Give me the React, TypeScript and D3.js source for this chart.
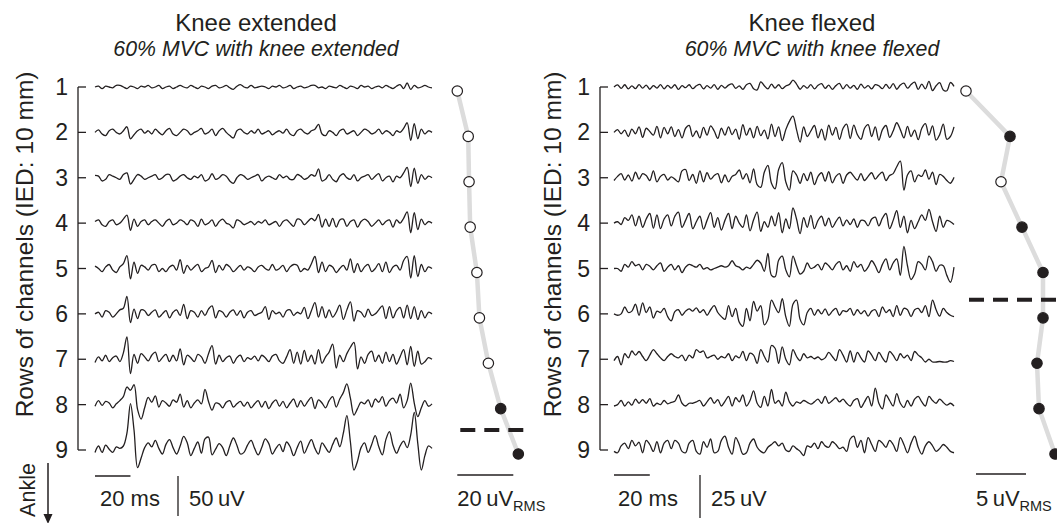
import React from "react";
import * as d3 from "d3";

// ---- Data -------------------------------------------------------------
const ROWS = [1, 2, 3, 4, 5, 6, 7, 8, 9];
const TRACE_MS = 190; // duration of each EMG epoch

// Knee extended, EMG per row of channels (uV), sampled every ~2 ms
const EXT_ROW1 = [0,1,-2,1,0,-1,2,2,0,-2,1,0,-2,1,0,2,-1,0,2,-2,0,1,-2,0,2,0,-1,2,0,-2,1,0,-2,1,2,-1,0,2,-1,-3,1,3,0,-1,2,-1,0,1,0,-2,1,0,2,-1,0,2,-2,0,1,-1,0,2,2,-1,0,-2,1,0,-1,2,0,-2,1,0,-2,2,0,1,-2,0,1,-1,2,0,-2,1,3,-2,5,-3,2,-1,0,2,0,-1];
const EXT_ROW2 = [0,3,-2,-4,2,4,0,-2,2,7,-8,-3,2,4,-1,2,-2,4,0,-3,2,5,-2,-4,0,4,2,-3,0,2,5,-2,0,4,-4,2,5,0,-4,-7,2,4,0,-2,2,-1,4,-2,0,2,-3,0,2,-1,4,-2,-4,2,4,0,-2,2,4,10,-2,-4,2,0,-4,2,4,-2,0,2,-4,0,4,2,-2,0,4,-2,2,0,-4,2,0,5,12,-10,11,-8,4,-2,2,0];
const EXT_ROW3 = [3,2,-4,-2,4,2,0,-2,4,6,-8,-2,4,2,-2,0,2,4,-2,0,4,4,-4,-2,2,4,0,-2,2,0,4,-4,-2,5,-2,0,4,2,-4,-7,0,4,2,-2,0,2,4,-4,0,2,0,-2,4,0,2,-2,-2,4,2,-2,0,4,2,11,-4,-2,4,-2,-5,2,5,0,-2,4,-4,0,2,4,-2,2,5,-4,0,2,-5,2,0,6,13,-11,12,-7,4,-2,2,0];
const EXT_ROW4 = [2,4,-2,-4,2,4,-2,0,5,10,-9,5,-4,2,4,-2,2,4,0,-4,2,5,-2,0,4,2,-2,4,2,-4,5,-2,0,4,-4,2,5,0,-2,-6,4,2,-2,0,2,-2,2,0,4,-2,0,2,-4,2,4,0,-4,5,4,-2,2,6,3,11,-5,5,-4,6,-5,4,5,-4,2,4,-5,2,5,2,-4,0,4,-2,2,4,-5,4,0,6,14,-12,13,-8,5,-2,2,0];
const EXT_ROW5 = [3,0,-4,2,5,-2,-5,2,6,16,-13,8,-6,4,2,-2,4,5,-4,0,-4,2,4,-2,11,-6,4,-2,2,5,-4,0,2,10,-5,4,-2,5,2,-4,0,4,-2,2,0,-4,2,4,0,-2,5,-2,0,4,-4,2,5,4,-4,0,-2,6,15,-5,8,-4,4,2,-5,0,4,-2,12,-5,6,-4,2,5,-4,0,6,-4,8,-5,2,4,-2,10,15,-12,16,-10,5,-4,2,0];
const EXT_ROW6 = [0,2,-4,4,2,-4,0,5,7,22,-11,6,-6,5,4,-2,2,5,-4,0,4,-5,2,5,-2,12,-6,4,2,-4,4,-2,6,10,-5,4,2,-4,2,5,-2,4,-5,2,4,-2,0,2,9,-7,4,0,2,-4,4,5,-2,2,0,8,-6,4,14,-4,9,-5,5,-4,2,11,-7,5,15,-9,4,2,-4,6,-2,0,5,10,-6,9,-5,4,8,-5,11,-6,9,-7,4,-5,2,0];
const EXT_ROW7 = [-4,3,-2,5,-3,2,4,-3,8,28,-18,6,-5,7,3,-2,5,9,-3,2,6,-3,5,-2,13,-7,5,2,-3,6,3,-5,7,17,-6,5,-3,2,4,-5,2,5,-3,2,0,4,-2,5,2,-3,4,6,-2,-5,3,12,-5,9,-6,11,-3,5,-6,12,-5,3,9,19,-11,5,-3,7,15,21,-12,3,-5,6,10,-3,5,-5,9,-3,6,-6,3,12,-7,16,-9,10,-6,-3,2,0];
const EXT_ROW8 = [-2,5,-1,4,2,-4,1,5,10,22,18,25,-6,-18,-4,9,3,11,-3,5,2,-2,6,3,13,-3,5,-4,2,6,1,19,4,-7,2,1,-4,3,5,-3,1,4,-2,3,-4,1,5,-3,4,-5,2,6,-2,4,-4,2,7,-3,5,-2,4,9,-5,6,2,-4,5,10,-3,7,15,26,8,-13,-5,3,1,6,-3,7,3,10,-2,5,8,2,13,-4,5,27,2,-15,-4,5,-2,1];
const EXT_ROW9 = [-3,5,-3,6,1,-3,4,2,5,21,58,25,-22,-10,3,9,4,12,2,-5,7,13,3,-5,5,17,9,-7,2,10,-4,14,16,-6,1,8,3,-7,5,15,6,-5,-3,6,12,2,-6,3,14,8,-5,2,7,-2,10,4,-7,3,11,-4,5,13,2,-5,9,3,-3,7,15,4,21,43,10,-25,-14,3,9,-3,7,18,4,-6,13,23,6,-4,5,11,3,19,47,8,-25,-7,5,2];

// Knee flexed (uV)
const FLX_ROW1 = [0,1.2,-0.8,1.3,-1.1,0.7,-1,1.4,-0.7,1.1,-1.3,0.8,-0.6,1.4,-1.1,1,-0.7,1.3,-1.4,0.8,-0.4,1.3,-1,0.7,1.5,-1.1,0.8,-0.7,1.4,-1.3,1,-0.6,1.1,1.8,-0.8,0.7,-1.4,1.3,2.1,-1,-1.7,3,0.7,-1.1,1.7,-0.7,1.3,-1,0.6,1.4,4,1.7,-1.3,0.8,-0.7,1.4,-1.1,1,2,-0.8,1.1,-1.4,0.8,2.1,-1.1,1.4,-0.7,1,-1.3,1.7,-0.6,0.8,-1.1,1.4,0.7,-1,1.5,-0.8,2,-1.3,1.1,2.2,-0.7,1.4,2.8,-1.4,1.7,-1.1,3.3,-2.1,0.7,2.5,-1.7,-2.2,2.6,0.4];
const FLX_ROW2 = [0,1.6,-0.8,1.3,-2.4,1.9,-0.8,3.2,-2.9,2.4,0.5,-1.6,3.5,-3.2,2.9,-0.8,3.2,-2.4,1.6,-3.2,2.4,4,-2.4,0.8,-3.2,2.9,-1.6,3.8,0.8,-3.5,2.4,-1.6,3.2,-1.3,1.9,-4,4.5,-1.6,2.4,-3.2,3.5,-1.9,1.3,-3.8,4.8,-2.4,3.2,-4.8,1.6,6.4,9.5,1.6,-5.6,3.2,-2.4,0.8,4,-3.2,1.9,-4.5,4.2,-1.6,2.9,-4,2.4,4.8,-3.5,4.2,-1.3,-4,2.4,4.5,-2.4,3.2,-4.5,1.6,4,-2.9,0.8,5.6,1.6,-3.2,3.5,-2.4,1.3,-4.2,2.4,5.1,-1.6,3.8,-4.5,-1.3,4.8,-4,-2.4,3.2];
const FLX_ROW3 = [-1.6,0.8,2.4,-1.3,1.6,-1.9,3.2,-0.8,2.4,1.3,-1.6,4,-2.4,0.8,1.9,-1.3,0.5,-0.8,-2.4,4,4.8,-1.6,1.9,-3.2,4,-2.4,2.9,-0.8,1.3,2.4,-2.9,1.6,-2.4,0.8,1.9,4.5,-0.8,2.4,-2.9,5.1,-4,-5.6,3.2,7.2,-3.2,-6.4,4.8,8.8,-2.4,-7.2,4,1.6,-3.2,2.4,-1.6,3.2,-4,0.8,2.9,-1.9,3.5,-2.9,0.8,2.4,-3.2,1.6,3.2,0.8,-1.3,2.4,-1.6,0.8,2.9,-0.8,1.6,3.2,-1.6,1.3,2.4,6.4,9.6,-7.2,1.6,4,-2.4,1.6,0.8,4.5,-0.8,3.2,-4,1.9,0.8,-1.6,-3.2,0.3];
const FLX_ROW4 = [0,0.8,-0.8,3.2,1.6,4.8,-1.6,4,-2.4,2.4,5.6,-2.9,4.8,-3.2,2.4,4.8,-1.6,4,6.4,-2.4,1.6,5.6,-3.2,0.8,4,-3.5,1.6,6.1,-2.4,3.2,-4,1.6,5.6,-3.2,4,0,-2.4,4.8,-4.5,1.9,6.4,-4.8,0.8,-2.4,4,-1.6,6.1,-5.6,2.4,-3.2,8.8,2.4,-6.1,3.2,-2.4,4.5,-3.2,1.6,4,-1.6,2.9,-2.4,0.8,3.5,-1.6,1.9,-0.8,2.4,-2.4,1.6,1.3,-1.6,2.4,3.5,-1.6,2.9,5.6,-3.2,1.6,7.2,-2.4,4,-5.6,1.6,-3.2,0.8,4.8,1.6,8,0.8,-4.8,4,-2.4,1.6,0.8,-0.8];
const FLX_ROW5 = [0,0,-1.6,2.4,0.8,4,1.6,2.4,-0.8,2.4,1.3,-0.8,1.6,3.2,-1.6,0.8,2.4,-0.8,1.6,-2.4,0.8,2.4,1.6,0.8,2.4,-0.3,0.5,-0.8,0,0.8,1.6,0.8,1.6,4.5,1.6,0.8,-0.8,0.8,0,2.4,4.8,3.2,-1.6,8.8,-4,-4.8,4.8,7.2,-0.8,-4.8,7.2,1.6,-3.2,-1.6,3.2,0,0.8,2.4,-0.8,3.2,1.6,-0.8,2.4,4,-0.8,1.6,-1.6,4,0.8,2.4,-1.6,0.8,4.5,1.6,-2.4,2.4,5.6,-0.8,3.2,5.6,-4,12.8,1.6,-6.4,-3.2,4,2.4,-0.8,7.2,4,-1.6,1.9,1.6,-4,-8,0.8];
const FLX_ROW6 = [0,-0.8,0,4,0.8,1.6,5.6,-0.8,6.4,0.8,4,-2.4,1.6,0.8,3.2,-1.6,-4,1.3,2.4,-0.8,1.6,2.9,1.6,3.5,0.8,2.4,-0.8,2.4,4.8,0.8,-1.6,-3.2,4.8,-1.6,3.2,-4.8,-7.2,3.2,-4,7.2,1.6,4.8,-6.4,-3.2,8,4,0.8,8.8,-1.6,-7.2,5.6,8,-3.2,-6.4,0.8,3.2,-0.8,2.4,0,2.9,-0.8,1.6,3.2,-0.8,1.9,1.3,3.2,-0.8,2.4,0,1.9,-1.3,1.6,2.4,-1.6,4,0.8,2.4,-1.6,4.8,-0.8,3.2,2.4,-1.6,2.4,3.2,0.8,4.8,-1.6,8,2.4,-1.3,3.2,0.8,-0.8,-1.6];
const FLX_ROW7 = [-0.8,1.6,-3.2,3.2,0.8,4.8,2.4,4.5,1.6,-0.8,2.4,5.6,3.2,0.8,-0.8,1.6,3.2,1.6,0.8,2.4,-0.8,2.4,0.8,5.6,4,4.8,0.8,1.6,2.4,0,1.6,0.8,3.2,-0.8,1.9,0.8,4.5,-0.8,3.5,2.4,-2.4,5.6,1.6,-1.6,8,6.4,-2.4,7.2,0,-3.2,5.6,1.6,-0.8,3.2,0.8,1.6,0.3,1.3,-0.3,0.8,4,1.6,-0.8,5.6,2.4,-1.6,4.8,-1.6,4,0.8,-1.6,4.8,2.4,-0.8,4,0.8,-1.6,4.5,2.4,-0.8,3.2,0.8,2.4,-0.8,4.5,2.4,0.8,-1.6,0,-1.6,-1.6,-1.3,-1.6,-1.6,-0.8,-1.3];
const FLX_ROW8 = [-0.8,0,2.4,-0.8,1.6,-0.3,3.2,0.8,2.9,0.8,3.5,-0.8,0.8,0,2.4,0.5,1.3,1.9,5.6,0.8,-0.8,0.8,0.8,1.6,2.4,-0.8,1.6,4,0.8,2.9,-0.8,1.9,4.8,-0.8,4,1.6,5.6,-0.8,2.4,8,0.8,-1.6,4.8,-0.8,8.8,0.8,2.4,-0.8,7.2,1.6,-0.8,1.6,0.8,2.4,1.3,0.3,1.6,3.2,0.8,4.8,0.8,2.4,4,1.6,3.2,0.8,-0.8,2.4,3.5,-1.6,1.6,4.8,-0.8,9.6,0.8,-2.4,5.6,2.4,-0.8,6.4,0.8,-1.6,2.4,-0.8,3.2,4.8,1.6,-0.8,4.8,2.4,0.8,3.2,1.3,-0.3,0.8,-0.8];
const FLX_ROW9 = [-0.8,-1.6,2.4,4,0.8,5.6,2.4,4.5,-1.6,5.6,3.2,-0.8,4.8,-1.6,4,5.6,0.8,5.6,4,-0.8,-1.6,4,5.6,-0.8,-2.4,4.8,1.6,6.4,-1.6,-0.8,5.6,8,1.6,-2.4,7.2,3.2,-2.4,-1.6,4,6.4,1.6,-0.8,-1.6,1.6,3.2,4.8,2.4,4,0,-0.8,2.4,0.8,-0.8,-3.2,2.4,1.6,4,0.8,4.8,2.4,1.6,4.8,3.2,0.8,1.6,-0.8,6.4,8,1.6,5.6,-1.6,7.2,3.2,-0.8,5.6,4,1.6,5.6,3.2,-0.8,7.2,3.2,-1.6,4,8,1.6,-2.4,2.4,4.8,2.4,-0.8,0.8,3.2,1.6,-0.8,-1.6];

// RMS amplitude per row (uV_RMS) and whether the row is flagged (filled dot)
const EXT_RMS = [10.0, 13.9, 14.2, 14.6, 17.0, 17.9, 21.1, 25.5, 31.8];
const EXT_FLAG = [false, false, false, false, false, false, false, true, true];
const EXT_BOUNDARY_ROW = 8.56;

const FLX_RMS = [4.0, 8.4, 7.5, 9.6, 11.7, 11.7, 11.1, 11.3, 12.9];
const FLX_FLAG = [false, true, false, true, true, true, true, true, true];
const FLX_BOUNDARY_ROW = 5.69;

// ---- Layout -----------------------------------------------------------
const W = 1057;
const H = 523;
const FONT = "'Liberation Sans', Arial, Helvetica, sans-serif";
const INK = "#231f20";

const rowY = d3.scaleLinear().domain([1, 9]).range([87, 450]);
const DOT_DROP = 4;

type Panel = {
  title: string;
  subtitle: string;
  titleX: number;
  axisX: number;
  labelX: number;
  traces: number[][];
  time: d3.ScaleLinear<number, number>;
  amp: d3.ScaleLinear<number, number>;
  ampBar: number;
  rms: number[];
  flag: boolean[];
  rmsX: d3.ScaleLinear<number, number>;
  rmsBar: [number, number];
  boundaryRow: number;
  boundaryEnd: number;
  barY: number;
  msTextX: number;
  ampBarX: number;
};

const panels: Panel[] = [
  {
    title: "Knee extended",
    subtitle: "60% MVC with knee extended",
    titleX: 256,
    axisX: 78,
    labelX: 33,
    traces: [EXT_ROW1, EXT_ROW2, EXT_ROW3, EXT_ROW4, EXT_ROW5, EXT_ROW6, EXT_ROW7, EXT_ROW8, EXT_ROW9],
    time: d3.scaleLinear().domain([0, TRACE_MS]).range([95, 432]),
    amp: d3.scaleLinear().domain([0, 50]).range([0, 40]),
    ampBar: 50,
    rms: EXT_RMS,
    flag: EXT_FLAG,
    rmsX: d3.scaleLinear().domain([0, 20]).range([429.3, 485.3]),
    rmsBar: [10, 30],
    boundaryRow: EXT_BOUNDARY_ROW,
    boundaryEnd: 526,
    barY: 476,
    msTextX: 100,
    ampBarX: 178,
  },
  {
    title: "Knee flexed",
    subtitle: "60% MVC with knee flexed",
    titleX: 812,
    axisX: 600,
    labelX: 561,
    traces: [FLX_ROW1, FLX_ROW2, FLX_ROW3, FLX_ROW4, FLX_ROW5, FLX_ROW6, FLX_ROW7, FLX_ROW8, FLX_ROW9],
    time: d3.scaleLinear().domain([0, TRACE_MS]).range([614, 954]),
    amp: d3.scaleLinear().domain([0, 25]).range([0, 43]),
    ampBar: 25,
    rms: FLX_RMS,
    flag: FLX_FLAG,
    rmsX: d3.scaleLinear().domain([0, 5]).range([926, 976]),
    rmsBar: [5, 10],
    boundaryRow: FLX_BOUNDARY_ROW,
    boundaryEnd: 1070,
    barY: 475,
    msTextX: 618,
    ampBarX: 700,
  },
];

function PanelView({ p, showAnkle }: { p: Panel; showAnkle: boolean }) {
  const trace = (vals: number[], row: number) => {
    const step = TRACE_MS / (vals.length - 1);
    const line = d3
      .line<number>()
      .x((_, i) => p.time(i * step))
      .y((v) => rowY(row) - p.amp(v))
      .curve(d3.curveCatmullRom.alpha(0.5));
    return line(vals) ?? "";
  };

  const rmsPts: [number, number][] = p.rms.map((v, i) => [p.rmsX(v), rowY(ROWS[i]) + DOT_DROP]);
  const profile = d3.line().curve(d3.curveLinear)(rmsPts) ?? "";

  const [t0] = p.time.domain();
  const bY = rowY(p.boundaryRow);
  const dashStart = p.rmsX(p.rms[0]) + 3;

  return (
    <g>
      <text x={p.titleX} y={31} textAnchor="middle" fontSize={24} fill={INK}>
        {p.title}
      </text>
      <text x={p.titleX} y={56} textAnchor="middle" fontSize={21.3} fontStyle="italic" fill={INK}>
        {p.subtitle}
      </text>

      {/* rows axis */}
      <text
        transform={`translate(${p.labelX},${rowY(4.47)}) rotate(-90)`}
        textAnchor="middle"
        fontSize={24.5}
        fill={INK}
      >
        Rows of channels (IED: 10 mm)
      </text>
      <line x1={p.axisX} x2={p.axisX} y1={rowY(1)} y2={rowY(9)} stroke={INK} strokeWidth={1.3} />
      {ROWS.map((r) => (
        <g key={r}>
          <line x1={p.axisX} x2={p.axisX + 8} y1={rowY(r)} y2={rowY(r)} stroke={INK} strokeWidth={1.3} />
          <text x={p.axisX - 10} y={rowY(r) + 8} textAnchor="end" fontSize={23} fill={INK}>
            {r}
          </text>
        </g>
      ))}

      {/* EMG traces */}
      {p.traces.map((vals, i) => (
        <path key={i} d={trace(vals, ROWS[i])} fill="none" stroke={INK} strokeWidth={1.3} strokeLinejoin="round" />
      ))}

      {/* RMS profile */}
      <path d={profile} fill="none" stroke="#dcdcdc" strokeWidth={4.5} strokeLinejoin="round" />
      <line
        x1={dashStart}
        x2={p.boundaryEnd}
        y1={bY}
        y2={bY}
        stroke={INK}
        strokeWidth={4}
        strokeDasharray="15 9"
      />
      {rmsPts.map(([x, y], i) => (
        <circle key={i} cx={x} cy={y} r={5.2} fill={p.flag[i] ? INK : "#fff"} stroke={INK} strokeWidth={1.2} />
      ))}

      {/* scale bars */}
      <line x1={p.time(t0)} x2={p.time(t0 + 20)} y1={p.barY} y2={p.barY} stroke={INK} strokeWidth={1.3} />
      <text x={p.msTextX} y={506} fontSize={22} fill={INK}>
        20 ms
      </text>
      <line x1={p.ampBarX} x2={p.ampBarX} y1={p.barY} y2={p.barY + p.amp(p.ampBar)} stroke={INK} strokeWidth={1.3} />
      <text x={p.ampBarX + 11} y={506} fontSize={22} fill={INK}>
        {`${p.ampBar}\u2009uV`}
      </text>
      <line
        x1={p.rmsX(p.rmsBar[0])}
        x2={p.rmsX(p.rmsBar[1])}
        y1={p.barY - 1}
        y2={p.barY - 1}
        stroke={INK}
        strokeWidth={1.3}
      />
      <text x={p.rmsX(p.rmsBar[0])} y={506} fontSize={22} fill={INK}>
        {`${p.rmsBar[1] - p.rmsBar[0]}\u2009uV`}
        <tspan fontSize={14.5} dy={5}>
          RMS
        </tspan>
      </text>

      {showAnkle && (
        <g>
          <text transform={`translate(35,490) rotate(-90)`} textAnchor="middle" fontSize={21.5} fill={INK}>
            Ankle
          </text>
          <line x1={48} x2={48} y1={463} y2={516} stroke={INK} strokeWidth={1.5} />
          <path d="M43.5,514 L52.5,514 L48,524 Z" fill={INK} />
        </g>
      )}
    </g>
  );
}

export default function App() {
  return (
    <svg
      width={W}
      height={H}
      viewBox={`0 0 ${W} ${H}`}
      style={{ position: "absolute", left: 0, top: 0, background: "#fff" }}
      fontFamily={FONT}
    >
      <rect width={W} height={H} fill="#fff" />
      {panels.map((p, i) => (
        <PanelView key={i} p={p} showAnkle={i === 0} />
      ))}
    </svg>
  );
}
